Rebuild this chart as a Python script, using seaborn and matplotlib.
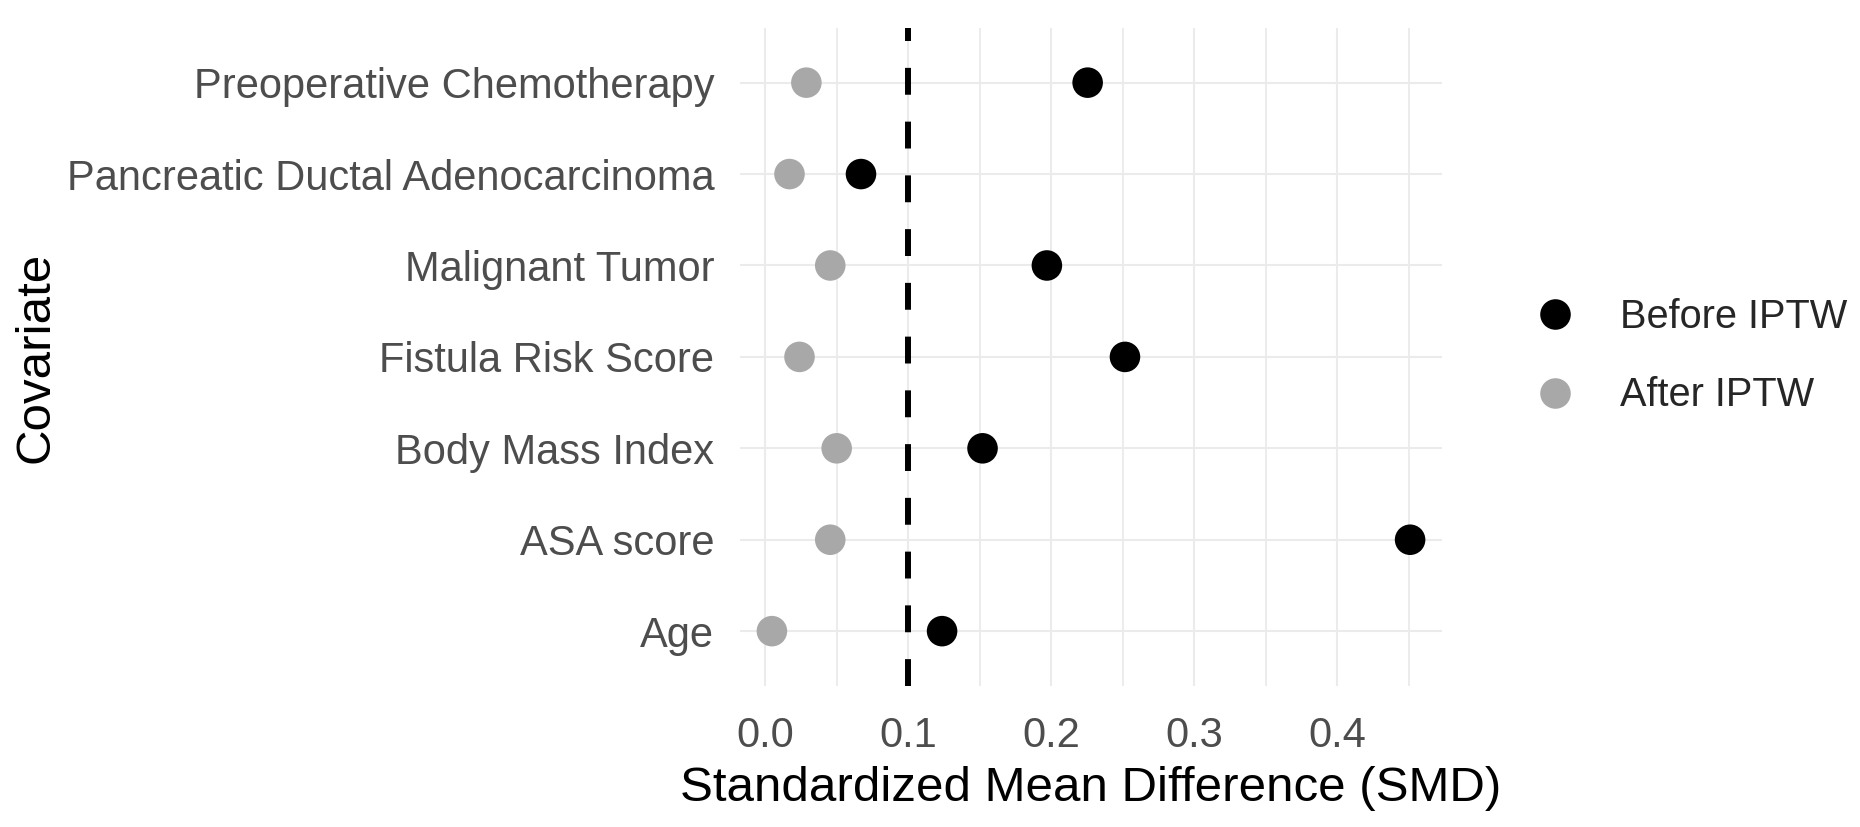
import numpy as np
import pandas as pd
import seaborn as sns
import matplotlib
matplotlib.use("Agg")
import matplotlib.pyplot as plt
from matplotlib.lines import Line2D
from matplotlib.ticker import MultipleLocator, FixedLocator

# Data (top to bottom)
covariates = [
    "Preoperative Chemotherapy",
    "Pancreatic Ductal Adenocarcinoma",
    "Malignant Tumor",
    "Fistula Risk Score",
    "Body Mass Index",
    "ASA score",
    "Age",
]
smd_before = [0.2255, 0.067, 0.197, 0.2516, 0.152, 0.451, 0.1237]
smd_after = [0.0288, 0.017, 0.0455, 0.024, 0.050, 0.0455, 0.0047]
groups = ["Before IPTW", "After IPTW"]
group_colors = {"Before IPTW": "black", "After IPTW": "#A8A8A8"}
x_ticks = [0.0, 0.1, 0.2, 0.3, 0.4]
threshold = 0.1

df = pd.DataFrame({
    "Covariate": covariates * 2,
    "SMD": smd_before + smd_after,
    "Timing": [groups[0]] * len(covariates) + [groups[1]] * len(covariates),
})

sns.set_theme(style="white")
plt.rcParams["font.family"] = ["Liberation Sans", "DejaVu Sans"]

W, H = 1860, 827
fig = plt.figure(figsize=(W / 100, H / 100), dpi=100)
# panel in pixels: left 740, right 1442, top 27.8, bottom 686
ax = fig.add_axes([740 / W, 1 - 686 / H, 702 / W, 658.2 / H])

sns.stripplot(data=df, x="SMD", y="Covariate", hue="Timing",
              order=covariates, hue_order=groups, palette=group_colors,
              jitter=False, size=22, linewidth=0, legend=False,
              ax=ax, zorder=3)

ax.axvline(threshold, color="black", lw=4.3, ls=(0, (4.5, 4.5)), zorder=2)

# ggplot-like limits (5% expansion for x, 0.6 for discrete y)
vals = np.array(smd_before + smd_after)
rng = vals.max() - vals.min()
ax.set_xlim(vals.min() - 0.05 * rng, vals.max() + 0.05 * rng)
ax.set_ylim(len(covariates) - 1 + 0.6, -0.6)

ax.xaxis.set_major_locator(FixedLocator(x_ticks))
ax.xaxis.set_minor_locator(MultipleLocator(0.05))
ax.set_xticklabels([f"{t:.1f}" for t in x_ticks])

ax.set_axisbelow(True)
ax.grid(True, which="major", axis="both", color="#EBEBEB", lw=1.5)
ax.grid(True, which="minor", axis="x", color="#EBEBEB", lw=1.3)

for s in ax.spines.values():
    s.set_visible(False)

ax.tick_params(axis="x", which="both", length=0, pad=21.5, labelsize=30, labelcolor="#4D4D4D")
ax.tick_params(axis="y", which="both", length=0, pad=18.5, labelsize=30, labelcolor="#4D4D4D")

ax.set_xlabel("Standardized Mean Difference (SMD)", fontsize=35.5, color="black")
ax.set_ylabel("Covariate", fontsize=35.5, color="black")
ax.xaxis.set_label_coords(0.5, (686 - 766) / 658.2)
ax.yaxis.set_label_coords((58.5 - 740) / 702, 0.5)

handles = [Line2D([], [], ls="none", marker="o", markersize=22,
                  markerfacecolor=group_colors[g], markeredgewidth=0)
           for g in groups]
fig.legend(handles, groups, loc="center left",
           bbox_to_anchor=(1535 / W, 1 - 356 / H), frameon=False,
           fontsize=28.6, handlelength=1.0, handletextpad=1.14,
           labelspacing=1.03, borderpad=0, borderaxespad=0)

fig.savefig("out.png", dpi=100)
